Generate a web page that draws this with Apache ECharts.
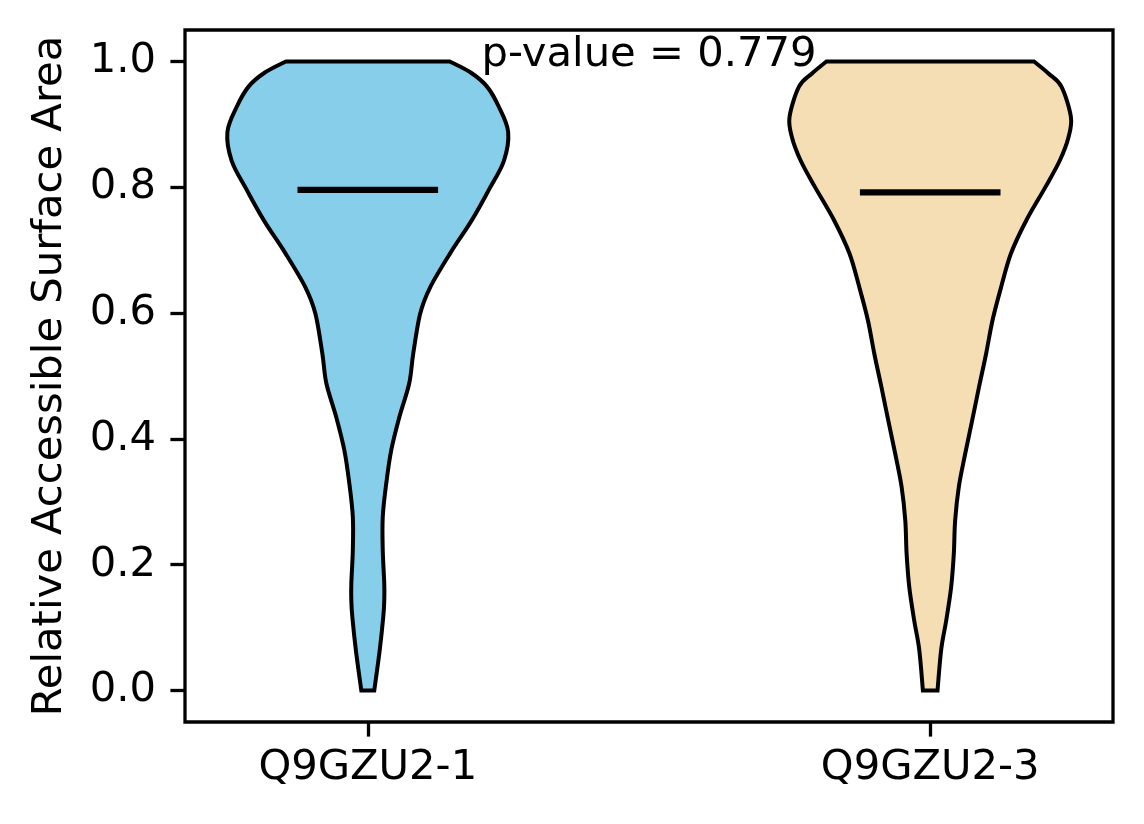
<!DOCTYPE html>
<html>
<head>
<meta charset="utf-8">
<title>Relative Accessible Surface Area</title>
<script src="https://cdn.jsdelivr.net/npm/echarts@6/dist/echarts.min.js"></script>
<style>
  html, body { margin: 0; padding: 0; background: #fff; }
  #chart { width: 1144px; height: 824px; }
</style>
</head>
<body>
<div id="chart"></div>
<script>
// isoforms along the x axis
const categories = ['Q9GZU2-1', 'Q9GZU2-3'];
const positions = [1, 2];
const medians = [0.796, 0.792];
const pValueText = 'p-value = 0.779';

// violin outlines: RSA level and half-width (x units)
const levels1 = [0.000, 0.065, 0.117, 0.143, 0.170, 0.223, 0.276, 0.329, 0.382, 0.434, 0.488, 0.535,
  0.599, 0.641, 0.695, 0.747, 0.795, 0.842, 0.888, 0.928, 0.960, 0.982, 1.000];
const halfWidths1 = [0.0115, 0.0213, 0.0275, 0.0293, 0.0293, 0.0266, 0.0266, 0.0328, 0.0417, 0.0559, 0.0736, 0.0807,
  0.0931, 0.1109, 0.1464, 0.1845, 0.2147, 0.2420, 0.2496, 0.2330, 0.2120, 0.1836, 0.1455];

const levels2 = [0.000, 0.065, 0.111, 0.165, 0.218, 0.270, 0.324, 0.376, 0.429, 0.483, 0.535,
  0.589, 0.641, 0.695, 0.748, 0.801, 0.843, 0.880, 0.912, 0.960, 0.981, 1.000];
const halfWidths2 = [0.0130, 0.0195, 0.0284, 0.0373, 0.0420, 0.0443, 0.0509, 0.0621, 0.0745, 0.0869, 0.0993,
  0.1109, 0.1260, 0.1437, 0.1712, 0.2053, 0.2306, 0.2460, 0.2501, 0.2333, 0.2102, 0.1845];

const yTicks = [0, 0.2, 0.4, 0.6, 0.8, 1.0];

const fillColors = ['#87ceeb', '#f5deb3'];
const FONT = 'DejaVu Sans';
const FONT_SIZE = 41.7;

const violins = [
  { levels: levels1, half: halfWidths1 },
  { levels: levels2, half: halfWidths2 },
];

// cubic segments through the given pixel points (catmull-rom), start point assumed current
function curveThrough(pts) {
  let d = '';
  for (let k = 0; k < pts.length - 1; k++) {
    const p0 = pts[k - 1] || pts[k];
    const p1 = pts[k];
    const p2 = pts[k + 1];
    const p3 = pts[k + 2] || p2;
    const c1x = p1[0] + (p2[0] - p0[0]) / 6;
    const c1y = p1[1] + (p2[1] - p0[1]) / 6;
    const c2x = p2[0] - (p3[0] - p1[0]) / 6;
    const c2y = p2[1] - (p3[1] - p1[1]) / 6;
    d += ` C${c1x},${c1y} ${c2x},${c2y} ${p2[0]},${p2[1]}`;
  }
  return d;
}

function renderViolin(params, api) {
  const i = params.dataIndex;
  const pos = api.value(0);
  const med = api.value(1);
  const v = violins[i];
  const right = [];
  const left = [];
  for (let k = 0; k < v.levels.length; k++) {
    right.push(api.coord([pos + v.half[k], v.levels[k]]));
  }
  for (let k = v.levels.length - 1; k >= 0; k--) {
    left.push(api.coord([pos - v.half[k], v.levels[k]]));
  }
  // flat cut at data min and max, curved sides
  const d = `M${right[0][0]},${right[0][1]}` + curveThrough(right)
    + ` L${left[0][0]},${left[0][1]}` + curveThrough(left) + ' Z';

  const a = api.coord([pos - 0.125, med]);
  const b = api.coord([pos + 0.125, med]);
  return {
    type: 'group',
    children: [
      {
        type: 'path',
        shape: { pathData: d },
        style: { fill: fillColors[i], stroke: '#000', lineWidth: 4, lineJoin: 'miter' },
      },
      {
        type: 'line',
        shape: { x1: a[0], y1: a[1], x2: b[0], y2: b[1] },
        style: { stroke: '#000', lineWidth: 6.25, lineCap: 'butt' },
      },
    ],
  };
}

const chart = echarts.init(document.getElementById('chart'));

chart.setOption({
  animation: false,
  backgroundColor: '#fff',
  grid: {
    left: 185, right: 31, top: 30, bottom: 102,
    show: true, borderColor: '#000', borderWidth: 3.3, backgroundColor: 'transparent',
  },
  xAxis: {
    type: 'value',
    min: 0.675,
    max: 2.325,
    axisLine: { show: false, onZero: false },
    splitLine: { show: false },
    axisTick: {
      show: true, customValues: positions, length: 14.6,
      lineStyle: { color: '#000', width: 3.3 },
    },
    axisLabel: {
      customValues: positions,
      formatter: (v) => categories[positions.indexOf(v)],
      color: '#000', fontFamily: FONT, fontSize: FONT_SIZE, margin: 25,
    },
  },
  yAxis: {
    type: 'value',
    min: -0.05,
    max: 1.05,
    axisLine: { show: false, onZero: false },
    splitLine: { show: false },
    axisTick: {
      show: true, customValues: yTicks, length: 14.6,
      lineStyle: { color: '#000', width: 3.3 },
    },
    axisLabel: {
      customValues: yTicks,
      formatter: (v) => v.toFixed(1),
      color: '#000', fontFamily: FONT, fontSize: FONT_SIZE, margin: 29,
    },
    name: 'Relative Accessible Surface Area',
    nameLocation: 'middle',
    nameRotate: 90,
    nameGap: 114,
    nameTextStyle: { color: '#000', fontFamily: FONT, fontSize: FONT_SIZE, lineHeight: 42 },
  },
  series: [
    {
      type: 'custom',
      renderItem: renderViolin,
      data: positions.map((p, i) => [p, medians[i]]),
      silent: true,
    },
    {
      type: 'custom',
      renderItem: (params, api) => {
        const p = api.coord([api.value(0), api.value(1)]);
        return {
          type: 'text',
          x: p[0],
          y: p[1],
          style: {
            text: pValueText,
            fill: '#000',
            fontFamily: FONT,
            fontSize: FONT_SIZE,
            textAlign: 'center',
            textVerticalAlign: 'middle',
          },
        };
      },
      data: [[1.5, 1.01]],
      silent: true,
      z: 5,
    },
  ],
});
</script>
</body>
</html>
